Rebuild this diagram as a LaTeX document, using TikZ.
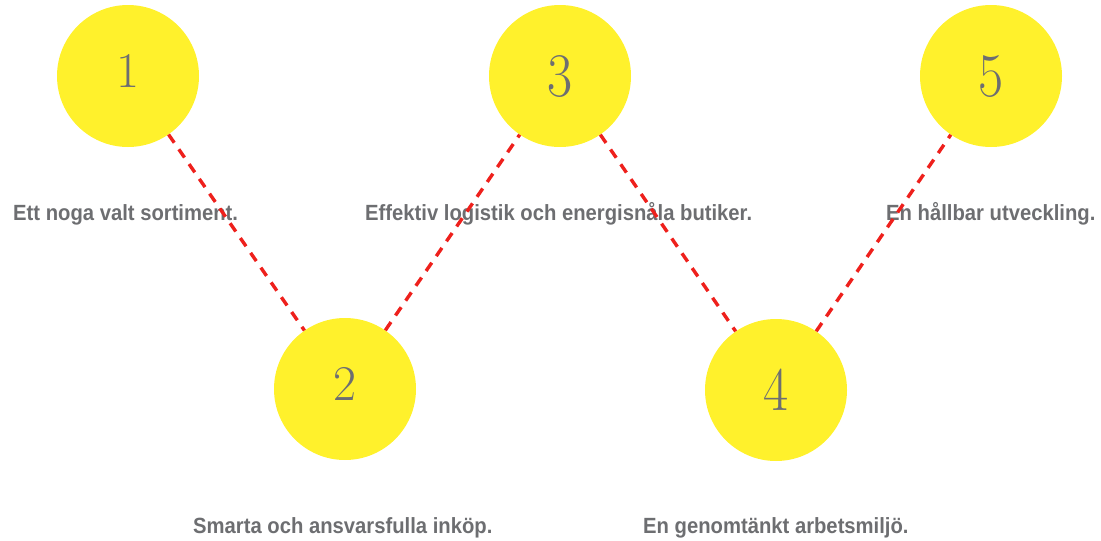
\documentclass[tikz,border=0pt]{standalone}
\usepackage{fontspec}
\newfontfamily\stepfont[FakeStretch=0.92]{Liberation Sans}
\definecolor{ringyellow}{RGB}{255,241,44}
\definecolor{txtgrey}{RGB}{109,110,113}
\definecolor{linkred}{RGB}{238,32,28}
\tikzset{>=stealth}
\tikzset{
  ring/.style={circle, fill=ringyellow, minimum size=142pt, inner sep=0pt,
    text=txtgrey, font=\fontsize{50}{50}\selectfont, text height=32pt, text depth=10pt},
  tallring/.style={ring, font=\fontsize{62}{62}\selectfont, text height=41pt, text depth=0pt},
  caption/.style={anchor=base west, inner sep=0pt, text=txtgrey,
    font=\stepfont\bfseries\fontsize{22}{22}\selectfont},
  link/.style={draw=linkred, line width=3.4pt, dash pattern=on 10pt off 8pt}
}

\begin{document}
\begin{tikzpicture}[x=1pt,y=-1pt]
    \useasboundingbox (0,0) rectangle (1101,541);
    \node[ring] (R1) at (128,76) {1};
    \node[ring] (R2) at (345,389) {2};
    \node[tallring] (R3) at (560,76) {\scalebox{0.88}[1]{3}};
    \node[tallring] (R4) at (776,390) {\scalebox{0.88}[1]{4}};
    \node[tallring] (R5) at (991,76) {\scalebox{0.88}[1]{5}};
    \node[caption] (C1) at (13,220) {Ett noga valt sortiment.};
    \node[caption] (C3) at (365,220) {Effektiv logistik och energisnåla butiker.};
    \node[caption] (C5) at (886,220) {En hållbar utveckling.};
    \node[caption] (C2) at (193,533) {Smarta och ansvarsfulla inköp.};
    \node[caption] (C4) at (643,533) {En genomtänkt arbetsmiljö.};
    \draw[link] (R1) -- (R2);
    \draw[link] (R2) -- (R3);
    \draw[link] (R3) -- (R4);
    \draw[link] (R4) -- (R5);
\end{tikzpicture}
\end{document}
